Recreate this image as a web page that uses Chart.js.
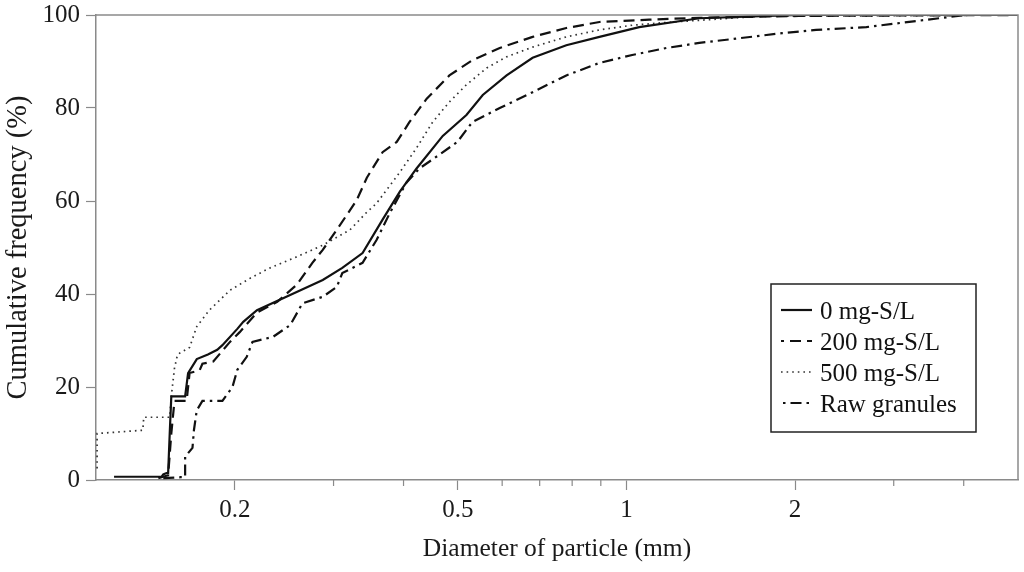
<!DOCTYPE html>
<html><head><meta charset="utf-8">
<script src="https://cdn.jsdelivr.net/npm/chart.js@4.4.0/dist/chart.umd.min.js"></script>
<style>html,body{margin:0;padding:0;background:#fff}#wrap{width:1024px;height:572px}</style>
</head><body><div id="wrap"><canvas id="c" width="1024" height="572"></canvas></div>
<script>
const seriesNames = ['0 mg-S/L', '200 mg-S/L', '500 mg-S/L', 'Raw granules'];

const s0x = [0.1217,0.148,0.149,0.151,0.152,0.153,0.154,0.163,0.165,0.171,0.179,0.186,0.190,0.202,0.207,0.219,0.251,0.287,0.311,0.338,0.367,0.394,0.422,0.470,0.518,0.554,0.611,0.680,0.781,0.895,1.054,1.349,2.03,5];
const s0y = [0.7,0.7,1.2,1.5,1.5,10,18,18,23,26,27,28,29,32.5,34,36.5,39.8,43,45.6,48.8,56,62,67,74,78.5,82.8,87,90.8,93.5,95.3,97.4,99.3,100,100];

const s200x = [0.146,0.151,0.152,0.154,0.156,0.164,0.166,0.173,0.175,0.183,0.196,0.204,0.219,0.238,0.258,0.275,0.287,0.308,0.330,0.344,0.367,0.389,0.410,0.440,0.483,0.531,0.594,0.680,0.781,0.895,1.098,1.349,2.03,5];
const s200y = [0.4,0.9,1,10,17,17,23,23.6,25,25.5,29.7,31.8,36,38.3,42,46.7,49.5,54.8,60.2,65,70.5,72.7,77,82,87,90.3,92.9,95.3,97.2,98.5,99,99.4,99.8,100];

const s500x = [0.1135,0.1135,0.137,0.1375,0.153,0.154,0.156,0.158,0.166,0.171,0.180,0.196,0.213,0.231,0.258,0.287,0.321,0.344,0.358,0.394,0.422,0.451,0.483,0.518,0.563,0.611,0.680,0.781,0.895,1.024,1.178,1.725,5];
const s500y = [2.5,10,10.7,13.5,13.5,18,24,27,28.5,33,36.5,40.8,43.4,45.6,48,50.5,53.8,57.6,59.5,66.2,71.4,77,81.3,85,88.6,91,93.1,95.3,96.8,97.8,98.4,99.7,100];

const rawx = [0.149,0.160,0.163,0.163,0.168,0.169,0.171,0.175,0.190,0.198,0.202,0.210,0.215,0.234,0.251,0.264,0.287,0.304,0.311,0.338,0.358,0.378,0.405,0.427,0.464,0.499,0.531,0.594,0.680,0.781,0.895,1.024,1.178,1.349,1.59,1.896,2.18,2.68,3.29,4.04,5];
const rawy = [0.4,0.6,0.6,5,6.9,10.7,15,17,17,20,23.7,26.5,29.7,30.8,33.3,38,39.4,41.5,44.5,46.7,51.6,57.4,64,67,70,72.7,77,80,83.4,87,89.7,91.4,92.9,94,95,96.1,96.8,97.4,98.7,100,100];

const xMajorTicks = [0.2, 0.5, 1, 2];
const xMinorTicks = [0.3, 0.4, 0.6, 0.7, 0.8, 0.9, 3, 4];
const yTicks = [0, 20, 40, 60, 80, 100];

const pts = (xs, ys) => xs.map((x, i) => ({x: x, y: ys[i]}));
const FONT = "'Liberation Serif', 'DejaVu Serif', serif";
const AXIS = '#8a8a8a';

const styles = [
  {dash: [], width: 2.2, color: '#111'},
  {dash: [11, 6], width: 2.2, color: '#111'},
  {dash: [1.6, 4], width: 1.7, color: '#333'},
  {dash: [11, 5, 2.5, 5], width: 2.2, color: '#111'}
];
const seriesData = [pts(s0x, s0y), pts(s200x, s200y), pts(s500x, s500y), pts(rawx, rawy)];

const datasets = seriesNames.map((n, i) => ({
  label: n,
  data: seriesData[i],
  borderColor: styles[i].color,
  borderWidth: styles[i].width,
  borderDash: styles[i].dash,
  pointRadius: 0,
  tension: 0,
  fill: false
}));

const framePlugin = {
  id: 'frame',
  afterDraw(chart) {
    const {ctx, chartArea: a, scales} = chart;
    ctx.save();
    ctx.strokeStyle = AXIS;
    ctx.lineWidth = 1.5;
    ctx.beginPath();
    ctx.moveTo(a.left, a.top); ctx.lineTo(a.right, a.top); ctx.lineTo(a.right, a.bottom);
    ctx.stroke();
    ctx.lineWidth = 1.2;
    xMinorTicks.forEach(v => {
      const px = scales.x.getPixelForValue(v);
      ctx.beginPath(); ctx.moveTo(px, a.bottom); ctx.lineTo(px, a.bottom + 6); ctx.stroke();
    });
    // legend
    const bx = a.right - 247, by = a.bottom - 196, bw = 205, bh = 148;
    ctx.fillStyle = '#fff';
    ctx.fillRect(bx, by, bw, bh);
    ctx.strokeStyle = '#222';
    ctx.lineWidth = 1.5;
    ctx.strokeRect(bx, by, bw, bh);
    ctx.font = '25px ' + FONT;
    ctx.textBaseline = 'middle';
    ctx.fillStyle = '#111';
    seriesNames.forEach((n, i) => {
      const y = by + 26 + i * 31;
      ctx.save();
      ctx.strokeStyle = styles[i].color;
      ctx.lineWidth = styles[i].width;
      ctx.setLineDash(styles[i].dash);
      if (i === 1) ctx.lineDashOffset = 8;
      if (i === 3) ctx.lineDashOffset = 14;
      ctx.beginPath(); ctx.moveTo(bx + 10, y); ctx.lineTo(bx + 41, y); ctx.stroke();
      ctx.restore();
      ctx.fillText(n, bx + 49, y + 2);
    });
    ctx.restore();
  }
};

new Chart(document.getElementById('c'), {
  type: 'line',
  data: {datasets},
  plugins: [framePlugin],
  options: {
    responsive: false,
    animation: false,
    layout: {padding: {top: 15, right: 6, left: 0, bottom: 0}},
    plugins: {legend: {display: false}, tooltip: {enabled: false}},
    scales: {
      x: {
        type: 'logarithmic',
        min: 0.113, max: 5,
        afterBuildTicks: s => { s.ticks = xMajorTicks.map(v => ({value: v})); },
        afterFit: s => { s.height = 92; s.paddingLeft = 0; s.paddingRight = 0; },
        ticks: {
          font: {family: FONT, size: 25}, color: '#1a1a1a', padding: 5,
          maxRotation: 0, autoSkip: false,
          callback: v => String(v)
        },
        grid: {drawOnChartArea: false, tickLength: 10, color: AXIS, tickColor: AXIS, tickWidth: 1.2},
        border: {display: true, color: AXIS, width: 1.5},
        title: {display: true, text: 'Diameter of particle (mm)', font: {family: FONT, size: 25.5}, color: '#1a1a1a', padding: {top: 0, bottom: 7}}
      },
      y: {
        type: 'linear',
        min: 0, max: 100,
        afterBuildTicks: s => { s.ticks = yTicks.map(v => ({value: v})); },
        afterFit: s => { s.width = 96; s.paddingTop = 0; s.paddingBottom = 0; },
        ticks: {font: {family: FONT, size: 25}, color: '#1a1a1a', padding: 6},
        grid: {drawOnChartArea: false, tickLength: 10, color: AXIS, tickColor: AXIS, tickWidth: 1.2},
        border: {display: true, color: AXIS, width: 1.5},
        title: {display: true, text: 'Cumulative frequency (%)', font: {family: FONT, size: 28.5}, color: '#1a1a1a', padding: {top: 1, bottom: 0}}
      }
    }
  }
});
</script></body></html>
